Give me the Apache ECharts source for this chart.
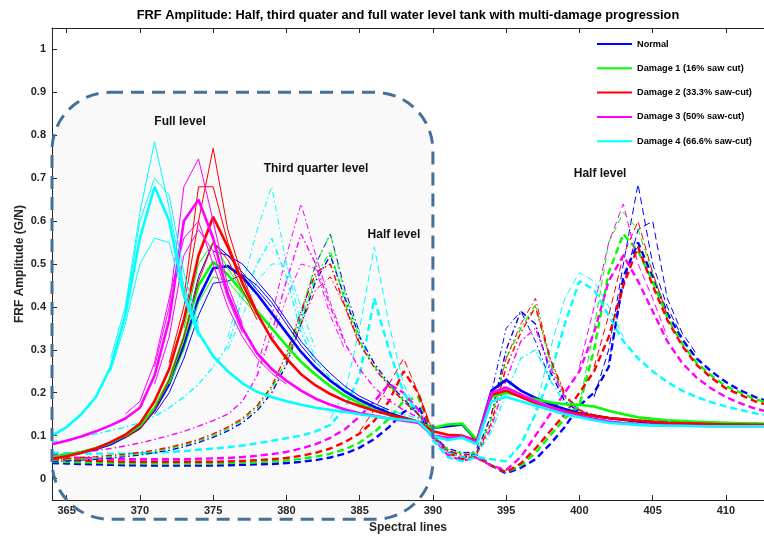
<!DOCTYPE html>
<html>
<head>
<meta charset="utf-8">
<script src="https://cdn.jsdelivr.net/npm/echarts@6/dist/echarts.min.js"></script>
<style>
  html, body { margin: 0; padding: 0; background: #ffffff; }
  #chart { width: 764px; height: 537px; }
</style>
</head>
<body>
<div id="chart"></div>
<script>
// Spectral line numbers (x axis) and tick positions
const spectralLines = [364,365,366,367,368,369,370,371,372,373,374,375,376,377,378,379,380,381,382,383,
  384,385,386,387,388,389,390,391,392,393,394,395,396,397,398,399,400,401,402,403,
  404,405,406,407,408,409,410,411,412,413];
const xTicks = [365,370,375,380,385,390,395,400,405,410];
const yTicks = [0,0.1,0.2,0.3,0.4,0.5,0.6,0.7,0.8,0.9,1];

const damageNames = ['Normal','Damage 1 (16% saw cut)','Damage 2 (33.3% saw-cut)','Damage 3 (50% saw-cut)','Damage 4 (66.6% saw-cut)'];
const damageColors = ['#0000ff','#00ff00','#ff0000','#ff00ff','#00ffff'];

// ---- Full water level (solid lines), one value per spectral line ----
const fullNormal = [0.050,0.055,0.061,0.069,0.080,0.097,0.118,0.160,0.220,0.310,
  0.420,0.490,0.495,0.470,0.430,0.385,0.340,0.295,0.258,0.228,
  0.203,0.183,0.167,0.153,0.142,0.132,0.118,0.122,0.126,0.088,
  0.205,0.230,0.205,0.188,0.173,0.162,0.152,0.146,0.141,0.137,
  0.133,0.130,0.128,0.127,0.126,0.125,0.125,0.124,0.124,0.124];
const fullD1 = [0.050,0.056,0.062,0.071,0.083,0.100,0.122,0.165,0.230,0.330,
  0.450,0.505,0.475,0.435,0.390,0.350,0.310,0.272,0.242,0.215,
  0.193,0.175,0.160,0.148,0.138,0.130,0.118,0.126,0.128,0.090,
  0.190,0.200,0.192,0.185,0.178,0.173,0.172,0.168,0.158,0.150,
  0.143,0.139,0.136,0.134,0.132,0.131,0.130,0.129,0.128,0.127];
const fullD2 = [0.046,0.052,0.060,0.070,0.085,0.102,0.128,0.180,0.255,0.370,
  0.520,0.610,0.540,0.455,0.385,0.325,0.280,0.243,0.217,0.197,
  0.181,0.169,0.158,0.149,0.141,0.133,0.110,0.102,0.100,0.088,
  0.195,0.205,0.190,0.176,0.166,0.157,0.151,0.146,0.141,0.138,
  0.135,0.132,0.130,0.129,0.128,0.127,0.126,0.126,0.125,0.125];
const fullD3 = [0.080,0.088,0.098,0.110,0.124,0.140,0.165,0.240,0.370,0.600,
  0.650,0.560,0.430,0.350,0.292,0.255,0.228,0.205,0.186,0.172,
  0.161,0.152,0.146,0.140,0.135,0.130,0.100,0.095,0.098,0.085,
  0.200,0.212,0.196,0.180,0.166,0.155,0.146,0.139,0.133,0.129,
  0.126,0.125,0.124,0.123,0.123,0.122,0.122,0.122,0.122,0.122];
const fullD4 = [0.100,0.120,0.150,0.190,0.260,0.380,0.560,0.680,0.600,0.430,
  0.340,0.285,0.250,0.222,0.202,0.190,0.180,0.172,0.165,0.160,
  0.155,0.150,0.145,0.140,0.137,0.133,0.100,0.090,0.095,0.080,
  0.180,0.190,0.180,0.170,0.160,0.150,0.143,0.136,0.130,0.127,
  0.125,0.124,0.123,0.123,0.122,0.122,0.122,0.122,0.122,0.122];

// ---- Third quarter water level (dash-dot lines) ----
const tqNormal = [0.040,0.041,0.043,0.045,0.048,0.051,0.055,0.060,0.066,0.074,
  0.084,0.096,0.111,0.130,0.158,0.200,0.265,0.360,0.460,0.520,
  0.420,0.330,0.268,0.222,0.185,0.150,0.100,0.070,0.060,0.062,
  0.150,0.300,0.390,0.360,0.250,0.180,0.155,0.145,0.140,0.137,
  0.135,0.133,0.132,0.131,0.130,0.129,0.129,0.128,0.128,0.128];
const tqD1 = [0.042,0.044,0.046,0.048,0.051,0.054,0.058,0.063,0.070,0.078,
  0.088,0.100,0.116,0.136,0.165,0.210,0.275,0.370,0.470,0.530,
  0.410,0.320,0.262,0.218,0.182,0.150,0.100,0.068,0.058,0.060,
  0.140,0.280,0.350,0.405,0.270,0.190,0.158,0.147,0.141,0.138,
  0.136,0.134,0.133,0.132,0.131,0.130,0.130,0.129,0.129,0.129];
const tqD2 = [0.045,0.047,0.049,0.051,0.054,0.057,0.061,0.066,0.073,0.081,
  0.091,0.104,0.120,0.140,0.170,0.215,0.290,0.390,0.480,0.500,
  0.400,0.315,0.258,0.215,0.180,0.150,0.100,0.065,0.055,0.058,
  0.130,0.260,0.340,0.400,0.280,0.195,0.160,0.148,0.142,0.139,
  0.137,0.135,0.133,0.132,0.131,0.130,0.130,0.129,0.129,0.129];
const tqD3 = [0.055,0.058,0.061,0.065,0.070,0.076,0.083,0.091,0.100,0.110,
  0.122,0.135,0.150,0.180,0.240,0.340,0.460,0.570,0.500,0.400,
  0.315,0.255,0.212,0.182,0.160,0.142,0.100,0.062,0.050,0.055,
  0.120,0.230,0.320,0.350,0.260,0.190,0.158,0.146,0.140,0.137,
  0.135,0.133,0.132,0.131,0.130,0.129,0.129,0.128,0.128,0.128];
const tqD4 = [0.085,0.090,0.097,0.104,0.112,0.120,0.130,0.145,0.165,0.190,
  0.220,0.260,0.310,0.420,0.500,0.560,0.470,0.340,0.272,0.235,
  0.205,0.185,0.170,0.160,0.150,0.140,0.095,0.060,0.050,0.055,
  0.110,0.200,0.280,0.300,0.230,0.175,0.150,0.140,0.135,0.132,
  0.130,0.129,0.128,0.127,0.126,0.126,0.125,0.125,0.125,0.125];

// ---- Half water level (dashed lines) ----
const halfNormal = [0.036,0.035,0.034,0.033,0.032,0.031,0.031,0.030,0.030,0.030,
  0.030,0.030,0.031,0.032,0.033,0.034,0.036,0.039,0.043,0.049,
  0.058,0.072,0.092,0.120,0.155,0.170,0.100,0.065,0.050,0.055,
  0.030,0.012,0.025,0.045,0.080,0.120,0.170,0.200,0.260,0.470,
  0.550,0.470,0.385,0.325,0.280,0.250,0.225,0.205,0.190,0.178];
const halfD1 = [0.040,0.039,0.038,0.037,0.036,0.035,0.035,0.035,0.035,0.035,
  0.035,0.035,0.036,0.037,0.038,0.040,0.042,0.046,0.051,0.058,
  0.068,0.084,0.108,0.140,0.180,0.190,0.100,0.062,0.048,0.052,
  0.030,0.015,0.030,0.060,0.100,0.140,0.170,0.300,0.480,0.570,
  0.530,0.460,0.375,0.315,0.270,0.240,0.215,0.200,0.185,0.175];
const halfD2 = [0.045,0.044,0.042,0.041,0.040,0.039,0.039,0.039,0.039,0.039,
  0.039,0.039,0.040,0.041,0.043,0.045,0.048,0.053,0.060,0.070,
  0.085,0.105,0.135,0.180,0.250,0.200,0.100,0.060,0.045,0.050,
  0.030,0.015,0.035,0.070,0.110,0.150,0.200,0.250,0.330,0.450,
  0.540,0.450,0.370,0.310,0.265,0.235,0.210,0.195,0.180,0.170];
const halfD3 = [0.050,0.049,0.048,0.047,0.046,0.045,0.045,0.045,0.045,0.045,
  0.046,0.047,0.048,0.050,0.053,0.057,0.062,0.070,0.080,0.095,
  0.115,0.145,0.180,0.220,0.200,0.160,0.095,0.055,0.042,0.048,
  0.030,0.020,0.050,0.100,0.150,0.200,0.250,0.340,0.460,0.520,
  0.460,0.390,0.320,0.270,0.235,0.210,0.190,0.175,0.163,0.155];
const halfD4 = [0.060,0.059,0.058,0.058,0.058,0.058,0.059,0.060,0.062,0.064,
  0.067,0.070,0.073,0.077,0.082,0.088,0.094,0.100,0.110,0.125,
  0.165,0.240,0.420,0.300,0.200,0.150,0.090,0.050,0.040,0.050,
  0.045,0.040,0.080,0.150,0.240,0.360,0.460,0.440,0.380,0.320,
  0.280,0.250,0.225,0.205,0.190,0.178,0.168,0.160,0.152,0.147];

// ---- Individual repeat measurements around the peaks ([line, amplitude]) ----
const fullNormalRuns = [
  [[371,0.15],[372,0.20],[373,0.28],[374,0.38],[375,0.455],[376,0.46],[377,0.475],[378,0.45],[379,0.41],[380,0.36],[381,0.31],[382,0.27]],
  [[372,0.23],[373,0.33],[374,0.47],[375,0.55],[376,0.52],[377,0.48],[378,0.44],[379,0.40]],
  [[375,0.53],[376,0.52],[377,0.50],[378,0.46],[379,0.42],[380,0.37],[381,0.32],[382,0.28],[383,0.245],[384,0.215],[385,0.192],[386,0.175],[387,0.16]]
];
const fullD1Runs = [
  [[372,0.22],[373,0.30],[374,0.41],[375,0.47],[376,0.46],[377,0.42],[378,0.38]],
  [[373,0.35],[374,0.50],[375,0.55],[376,0.49],[377,0.44]]
];
const fullD2Runs = [
  [[372,0.27],[373,0.40],[374,0.60],[375,0.77],[376,0.58],[377,0.47],[378,0.39]],
  [[373,0.42],[374,0.68],[375,0.68],[376,0.55],[377,0.46]],
  [[369,0.095],[370,0.115],[371,0.16],[372,0.23],[373,0.33],[374,0.46],[375,0.55],[376,0.51],[377,0.44],[378,0.37]]
];
const fullD3Runs = [
  [[371,0.26],[372,0.40],[373,0.68],[374,0.745],[375,0.60],[376,0.45],[377,0.36]],
  [[371,0.22],[372,0.33],[373,0.52],[374,0.58],[375,0.53],[376,0.42],[377,0.34]],
  [[369,0.15],[370,0.18],[371,0.27],[372,0.42],[373,0.56],[374,0.60],[375,0.50],[376,0.40],[377,0.33],[378,0.28],[379,0.245],[380,0.22]]
];
const fullD4Runs = [
  [[368,0.28],[369,0.40],[370,0.62],[371,0.785],[372,0.63],[373,0.45],[374,0.35]],
  [[368,0.25],[369,0.36],[370,0.50],[371,0.56],[372,0.55],[373,0.42],[374,0.33]],
  [[369,0.39],[370,0.60],[371,0.70],[372,0.66],[373,0.48],[374,0.36]]
];
const tqNormalRuns = [
  [[380,0.27],[381,0.38],[382,0.50],[383,0.57],[384,0.44],[385,0.34]],
  [[393,0.07],[394,0.20],[395,0.35],[396,0.39],[397,0.32],[398,0.23]]
];
const tqD1Runs = [
  [[380,0.28],[381,0.39],[382,0.50],[383,0.57],[384,0.43],[385,0.33]]
];
const tqD2Runs = [
  [[380,0.27],[381,0.36],[382,0.44],[383,0.47],[384,0.40],[385,0.31]],
  [[394,0.15],[395,0.28],[396,0.36],[397,0.42],[398,0.28],[399,0.20]]
];
const tqD3Runs = [
  [[378,0.26],[379,0.38],[380,0.52],[381,0.64],[382,0.52],[383,0.41],[384,0.32]],
  [[379,0.32],[380,0.42],[381,0.50],[382,0.49],[383,0.38],[384,0.30]]
];
const tqD4Runs = [
  [[376,0.33],[377,0.45],[378,0.58],[379,0.68],[380,0.50],[381,0.36],[382,0.28]],
  [[376,0.30],[377,0.38],[378,0.46],[379,0.50],[380,0.50],[381,0.40],[382,0.30]]
];
const halfNormalRuns = [
  [[401,0.19],[402,0.30],[403,0.50],[404,0.686],[405,0.50],[406,0.40],[407,0.33]],
  [[402,0.27],[403,0.45],[404,0.58],[405,0.60],[406,0.42],[407,0.34],[408,0.29]]
];
const halfD1Runs = [
  [[400,0.17],[401,0.35],[402,0.55],[403,0.62],[404,0.58],[405,0.48],[406,0.38]]
];
const halfD2Runs = [
  [[401,0.26],[402,0.38],[403,0.52],[404,0.60],[405,0.48],[406,0.38]],
  [[385,0.11],[386,0.16],[387,0.22],[388,0.28],[389,0.20],[390,0.11]]
];
const halfD3Runs = [
  [[400,0.26],[401,0.40],[402,0.55],[403,0.64],[404,0.50],[405,0.42],[406,0.33]]
];
const halfD4Runs = [
  [[397,0.16],[398,0.30],[399,0.42],[400,0.48],[401,0.46],[402,0.40],[403,0.33]],
  [[383,0.14],[384,0.20],[385,0.35],[386,0.54],[387,0.36],[388,0.22],[389,0.15]]
];

// Level annotations: [text, spectral line, amplitude]
const levelNotes = [
  ['Full level', 372.74, 0.832],
  ['Third quarter level', 382.02, 0.722],
  ['Half level', 387.34, 0.569],
  ['Half level', 401.41, 0.710]
];

const FONT = '"Liberation Sans", Arial, Helvetica, sans-serif';
const AXIS_COLOR = '#262626';

const levels = [
  { curves: [halfNormal, halfD1, halfD2, halfD3, halfD4],
    runs: [halfNormalRuns, halfD1Runs, halfD2Runs, halfD3Runs, halfD4Runs],
    dash: [7, 4], width: 2.4 },
  { curves: [tqNormal, tqD1, tqD2, tqD3, tqD4],
    runs: [tqNormalRuns, tqD1Runs, tqD2Runs, tqD3Runs, tqD4Runs],
    dash: [6, 3, 1.5, 3], width: 1.4 },
  { curves: [fullNormal, fullD1, fullD2, fullD3, fullD4],
    runs: [fullNormalRuns, fullD1Runs, fullD2Runs, fullD3Runs, fullD4Runs],
    dash: 'solid', width: 2.6 }
];

const series = [];
levels.forEach(level => {
  level.curves.forEach((values, k) => {
    series.push({
      type: 'line', name: damageNames[k], symbol: 'none', silent: true,
      data: spectralLines.map((x, i) => [x, values[i]]),
      lineStyle: { color: damageColors[k], width: level.width, type: level.dash },
      itemStyle: { color: damageColors[k] }
    });
    level.runs[k].forEach(run => {
      series.push({
        type: 'line', name: damageNames[k], symbol: 'none', silent: true,
        data: run,
        lineStyle: { color: damageColors[k], width: 1, type: level.dash },
        itemStyle: { color: damageColors[k] }
      });
    });
  });
});

const chart = echarts.init(document.getElementById('chart'), null, { renderer: 'canvas' });

const axisText = { color: AXIS_COLOR, fontFamily: FONT, fontWeight: 'bold', fontSize: 11 };

chart.setOption({
  animation: false,
  backgroundColor: '#ffffff',
  title: {
    text: 'FRF Amplitude: Half, third quater and full water level tank with multi-damage progression',
    left: 403, top: 4, textAlign: 'center',
    textStyle: { color: '#000000', fontFamily: FONT, fontWeight: 'bold', fontSize: 12.8 }
  },
  legend: {
    orient: 'vertical', left: 597, top: 37, padding: 0,
    icon: 'rect', itemWidth: 35, itemHeight: 2, itemGap: 10.3,
    selectedMode: false,
    textStyle: { color: '#000000', fontFamily: FONT, fontWeight: 'bold', fontSize: 9.2, lineHeight: 14, padding: [0, 0, 0, 0] },
    data: damageNames.map((n, k) => ({ name: n, itemStyle: { color: damageColors[k] } }))
  },
  grid: { left: 52, right: 0, top: 28, bottom: 37, containLabel: false, outerBoundsMode: 'none' },
  xAxis: [
    {
      type: 'value', position: 'bottom', min: 364, max: 412.6,
      name: 'Spectral lines', nameLocation: 'middle', nameGap: 22, nameMoveOverlap: false,
      nameTextStyle: { color: AXIS_COLOR, fontFamily: FONT, fontWeight: 'bold', fontSize: 12 },
      axisLine: { show: true, onZero: false, lineStyle: { color: AXIS_COLOR, width: 1 } },
      axisTick: { show: true, inside: true, length: 5, customValues: xTicks, lineStyle: { color: AXIS_COLOR } },
      axisLabel: Object.assign({ margin: 5, customValues: xTicks }, axisText),
      splitLine: { show: false }
    },
    {
      type: 'value', position: 'top', min: 364, max: 412.6,
      axisLine: { show: true, onZero: false, lineStyle: { color: AXIS_COLOR, width: 1 } },
      axisTick: { show: true, inside: true, length: 5, customValues: xTicks, lineStyle: { color: AXIS_COLOR } },
      axisLabel: { show: false },
      splitLine: { show: false }
    }
  ],
  yAxis: {
    type: 'value', min: -0.05, max: 1.05,
    name: 'FRF Amplitude (G/N)', nameLocation: 'middle', nameGap: 26, nameRotate: 90, nameMoveOverlap: false,
    nameTextStyle: { color: AXIS_COLOR, fontFamily: FONT, fontWeight: 'bold', fontSize: 12 },
    axisLine: { show: true, onZero: false, lineStyle: { color: AXIS_COLOR, width: 1 } },
    axisTick: { show: true, inside: true, length: 5, customValues: yTicks, lineStyle: { color: AXIS_COLOR } },
    axisLabel: Object.assign({ margin: 6, customValues: yTicks }, axisText),
    splitLine: { show: false }
  },
  series: series
});

// Highlighted region (rounded dashed box) and level annotations, placed in data coordinates
const toPx = (x, y) => chart.convertToPixel({ xAxisIndex: 0, yAxisIndex: 0 }, [x, y]);
const boxTL = toPx(364, 0.9);
const boxBR = toPx(390, -0.095);
const boxShape = { x: boxTL[0], y: boxTL[1], width: boxBR[0] - boxTL[0], height: boxBR[1] - boxTL[1], r: 58 };

const graphics = [
  { type: 'rect', z: -1, silent: true, shape: boxShape, style: { fill: '#f9f9f9', stroke: null } },
  { type: 'rect', z: 50, silent: true, shape: boxShape,
    style: { fill: null, stroke: '#46709c', lineWidth: 3, lineDash: [13, 8] } }
];
levelNotes.forEach(([text, x, y]) => {
  const p = toPx(x, y);
  graphics.push({
    type: 'text', z: 60, silent: true, x: p[0], y: p[1],
    style: { text: text, fill: '#111111', font: 'bold 12px ' + FONT, align: 'center', verticalAlign: 'middle' }
  });
});
chart.setOption({ graphic: graphics });
</script>
</body>
</html>
